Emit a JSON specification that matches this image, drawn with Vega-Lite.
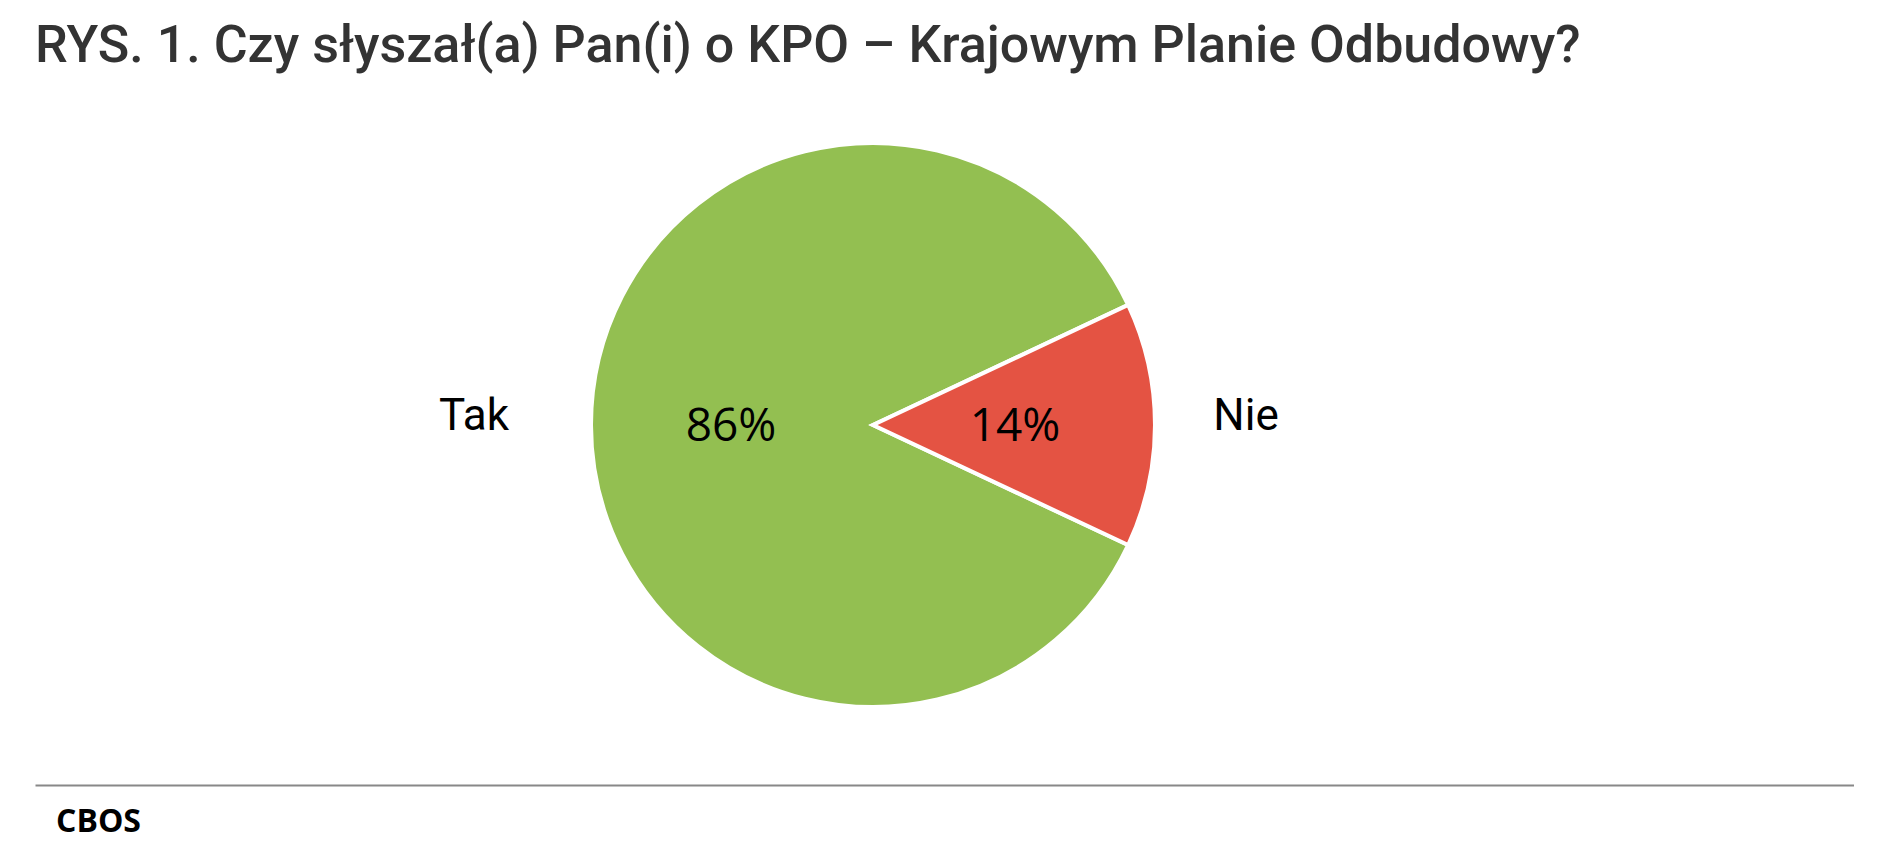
{
  "$schema": "https://vega.github.io/schema/vega-lite/v6.json",
  "padding": {"left": 35, "top": 20, "right": 0, "bottom": 0},
  "background": "white",
  "title": {
    "text": "RYS. 1. Czy słyszał(a) Pan(i) o KPO – Krajowym Planie Odbudowy?",
    "anchor": "start",
    "font": "Roboto",
    "fontSize": 52,
    "fontWeight": 500,
    "color": "#333333",
    "offset": 52
  },
  "spacing": 60,
  "config": {"view": {"stroke": null}},
  "vconcat": [
    {
      "width": 1676,
      "height": 600,
      "data": {
        "values": [
          {"answer": "Tak", "value": 86, "label": "86%", "ord": 1},
          {"answer": "Nie", "value": 14, "label": "14%", "ord": 2}
        ]
      },
      "encoding": {
        "theta": {"field": "value", "type": "quantitative", "stack": true, "scale": {"range": [2.0106, 8.2938]}},
        "order": {"field": "ord", "type": "quantitative"}
      },
      "layer": [
        {
          "mark": {"type": "arc", "outerRadius": 282, "stroke": "white", "strokeWidth": 4},
          "encoding": {
            "color": {"field": "answer", "type": "nominal", "scale": {"domain": ["Tak", "Nie"], "range": ["#93BF51", "#E45343"]}, "legend": null}
          }
        },
        {
          "mark": {"type": "text", "radius": 142, "dy": 2, "font": "Open Sans", "fontSize": 46, "color": "black"},
          "encoding": {"text": {"field": "label"}}
        },
        {
          "mark": {"type": "text", "radius": 386, "dx": -13, "dy": -8, "font": "Roboto", "fontSize": 44, "color": "black"},
          "encoding": {"text": {"field": "answer"}}
        }
      ]
    },
    {
      "width": 1819,
      "height": 60,
      "data": {"values": [{"source": "CBOS", "pos": 0}]},
      "mark": {"type": "text", "align": "left", "baseline": "alphabetic", "dx": 21, "dy": 17, "font": "Open Sans", "fontSize": 32, "fontWeight": "bold", "color": "black"},
      "encoding": {
        "x": {"field": "pos", "type": "quantitative", "scale": {"domain": [0, 1]}, "axis": {"orient": "top", "domainColor": "#888888", "domainWidth": 2, "ticks": false, "labels": false, "title": null, "grid": false}},
        "text": {"field": "source"}
      }
    }
  ]
}
